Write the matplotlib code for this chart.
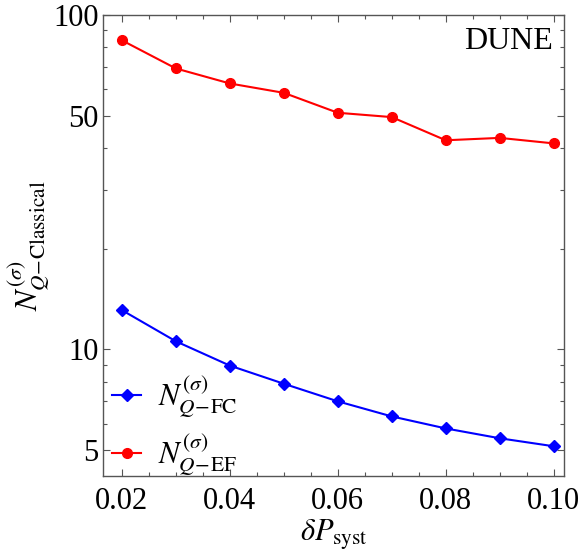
import matplotlib
matplotlib.use("Agg")
import matplotlib.pyplot as plt
from matplotlib.ticker import LogLocator, FixedLocator, MultipleLocator, NullFormatter

plt.rcParams['font.family'] = ['Liberation Serif', 'DejaVu Serif']
plt.rcParams['mathtext.fontset'] = 'stix'

dp_syst = [0.02, 0.03, 0.04, 0.05, 0.06, 0.07, 0.08, 0.09, 0.10]
n_fc = [13.1, 10.57, 8.94, 7.89, 6.99, 6.30, 5.80, 5.42, 5.13]
n_ef = [84.0, 69.2, 62.4, 58.5, 51.0, 49.5, 42.2, 42.9, 41.3]
x_ticks = [0.02, 0.04, 0.06, 0.08, 0.10]
x_tick_labels = ['0.02', '0.04', '0.06', '0.08', '0.10']
y_ticks = [5, 10, 50, 100]
y_tick_labels = ['5', '10', '50', '100']

fig = plt.figure(figsize=(5.82, 5.54), dpi=100)
ax = fig.add_axes([103/582, 1-476/554, (564-103)/582, (476-15)/554])

ax.plot(dp_syst, n_fc, color='#0000ff', lw=1.5, marker='D', ms=6.5,
        label=r'$N^{(\sigma)}_{Q\mathrm{\!-\!FC}}$')
ax.plot(dp_syst, n_ef, color='#ff0000', lw=1.5, marker='o', ms=7,
        label=r'$N^{(\sigma)}_{Q\mathrm{\!-\!EF}}$')

ax.set_yscale('log')
ax.set_xlim(0.0165, 0.1019)
ax.set_ylim(4.18, 100)
ax.xaxis.set_major_locator(FixedLocator(x_ticks))
ax.set_xticklabels(x_tick_labels)
ax.xaxis.set_minor_locator(MultipleLocator(0.005))
ax.yaxis.set_major_locator(FixedLocator(y_ticks))
ax.set_yticklabels(y_tick_labels)
ax.yaxis.set_minor_locator(LogLocator(base=10, subs=(2, 3, 4, 6, 7, 8, 9)))
ax.yaxis.set_minor_formatter(NullFormatter())

for s in ax.spines.values():
    s.set_color('#555555')
    s.set_linewidth(1.0)
ax.tick_params(which='both', direction='in', top=True, right=True, color='#555555',
               labelsize=22, labelcolor='black')
ax.tick_params(which='major', length=5, width=0.8)
ax.tick_params(axis='x', which='major', pad=8)
ax.tick_params(axis='y', which='major', pad=3)
ax.tick_params(which='minor', length=3, width=0.8)

ax.set_xlabel(r'$\delta P_{\mathrm{syst}}$', fontsize=22, labelpad=1)
ax.set_ylabel(r'$N^{(\sigma)}_{Q\mathrm{\!-\!Classical}}$', fontsize=22, labelpad=1)

ax.text(0.975, 0.975, 'DUNE', transform=ax.transAxes, ha='right', va='top', fontsize=23)

leg = ax.legend(loc='lower left', fontsize=22, frameon=False, handlelength=0.95,
                labelspacing=0.4, borderaxespad=0.0, handletextpad=0.55,
                bbox_to_anchor=(-0.006, -0.03))

fig.savefig('out.png', dpi=100)
